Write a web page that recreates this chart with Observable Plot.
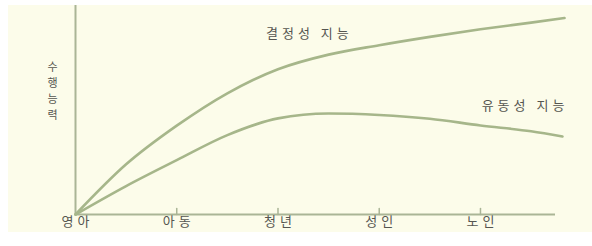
<!DOCTYPE html>
<html>
<head>
<meta charset="utf-8">
<script src="https://cdn.jsdelivr.net/npm/d3@7"></script>
<script src="https://cdn.jsdelivr.net/npm/@observablehq/plot@0.6"></script>
<style>
  html, body { margin: 0; padding: 0; background: #ffffff; }
  #wrap { position: relative; width: 592px; height: 246px; background: #ffffff; overflow: hidden; }
  #paper { position: absolute; left: 8px; top: 5px; width: 584px; height: 227px; background: #fcfcea; }
  #chart { position: absolute; left: 0; top: 0; }
</style>
</head>
<body>
<div id="wrap"><div id="paper"></div><div id="chart"></div></div>
<script>
// Life stages (x ticks)
const stages = ["영아", "아동", "청년", "성인", "노인"];
const stagePos = [0, 1, 2, 3, 4];

// Crystallized intelligence (결정성 지능)
const crystAge = [0, 0.5, 1, 1.5, 2, 2.5, 3, 3.5, 4, 4.5, 4.83];
const crystVal = [0, 24, 42.5, 58, 69.5, 76.5, 81, 85, 88.6, 91.8, 94];

// Fluid intelligence (유동성 지능)
const fluidAge = [0, 0.5, 1, 1.5, 2, 2.5, 3, 3.5, 4, 4.5, 4.81];
const fluidVal = [0, 13.6, 26, 38, 46, 48.3, 47.6, 45.8, 42.6, 39.8, 37.3];

const seriesNames = ["결정성 지능", "유동성 지능"];
const yLabel = "수행능력";

const rows = [];
crystAge.forEach((a, i) => rows.push({series: seriesNames[0], age: a, value: crystVal[i]}));
fluidAge.forEach((a, i) => rows.push({series: seriesNames[1], age: a, value: fluidVal[i]}));

const lineColor = "#a6b68a";
const axisColor = "#aab596";
const textColor = "#555550";

const tickShape = {draw(ctx, l) { ctx.moveTo(0, 0); ctx.lineTo(0, -l); }};

const chart = Plot.plot({
  width: 592,
  height: 246,
  marginLeft: 75,
  marginRight: 28,
  marginTop: 5,
  marginBottom: 32,
  x: {domain: [0, 4.83], axis: null},
  y: {domain: [0, 100], axis: null},
  style: {
    background: "transparent",
    fontFamily: "'Noto Sans CJK KR', 'Noto Sans', sans-serif",
    fontSize: "13px",
    color: textColor,
    overflow: "visible"
  },
  marks: [
    Plot.ruleX([0], {stroke: axisColor, strokeWidth: 2}),
    Plot.ruleY([0], {stroke: axisColor, strokeWidth: 2, insetRight: 9}),
    Plot.vector(stagePos.slice(1), {x: d => d, y: 0, length: 6, rotate: 0, anchor: "start", shape: tickShape, stroke: axisColor, strokeWidth: 1.5}),
    Plot.axisX(stagePos, {label: null, tickSize: 0, tickPadding: 2, dx: 2, tickFormat: d => stages[d], fill: textColor, fontSize: 13, className: "spaced"}),
    Plot.line(rows, {x: "age", y: "value", z: "series", stroke: lineColor, strokeWidth: 2.6, curve: "monotone-x"}),
    Plot.text([seriesNames[0]], {x: 2.29, y: 86.6, dx: 2, text: d => d, fill: textColor, fontSize: 13, className: "spaced"}),
    Plot.text([seriesNames[1]], {x: 4.42, y: 52.2, dx: 2, text: d => d, fill: textColor, fontSize: 13, className: "spaced"}),
    Plot.text([yLabel.split("").join("\n")], {x: 0, y: 59.6, dx: -23, text: d => d, fill: textColor, fontSize: 11, lineHeight: 1.45})
  ]
});
chart.querySelectorAll("g.spaced text, .spaced text").forEach(t => t.setAttribute("letter-spacing", "4"));
document.getElementById("chart").appendChild(chart);
</script>
</body>
</html>
